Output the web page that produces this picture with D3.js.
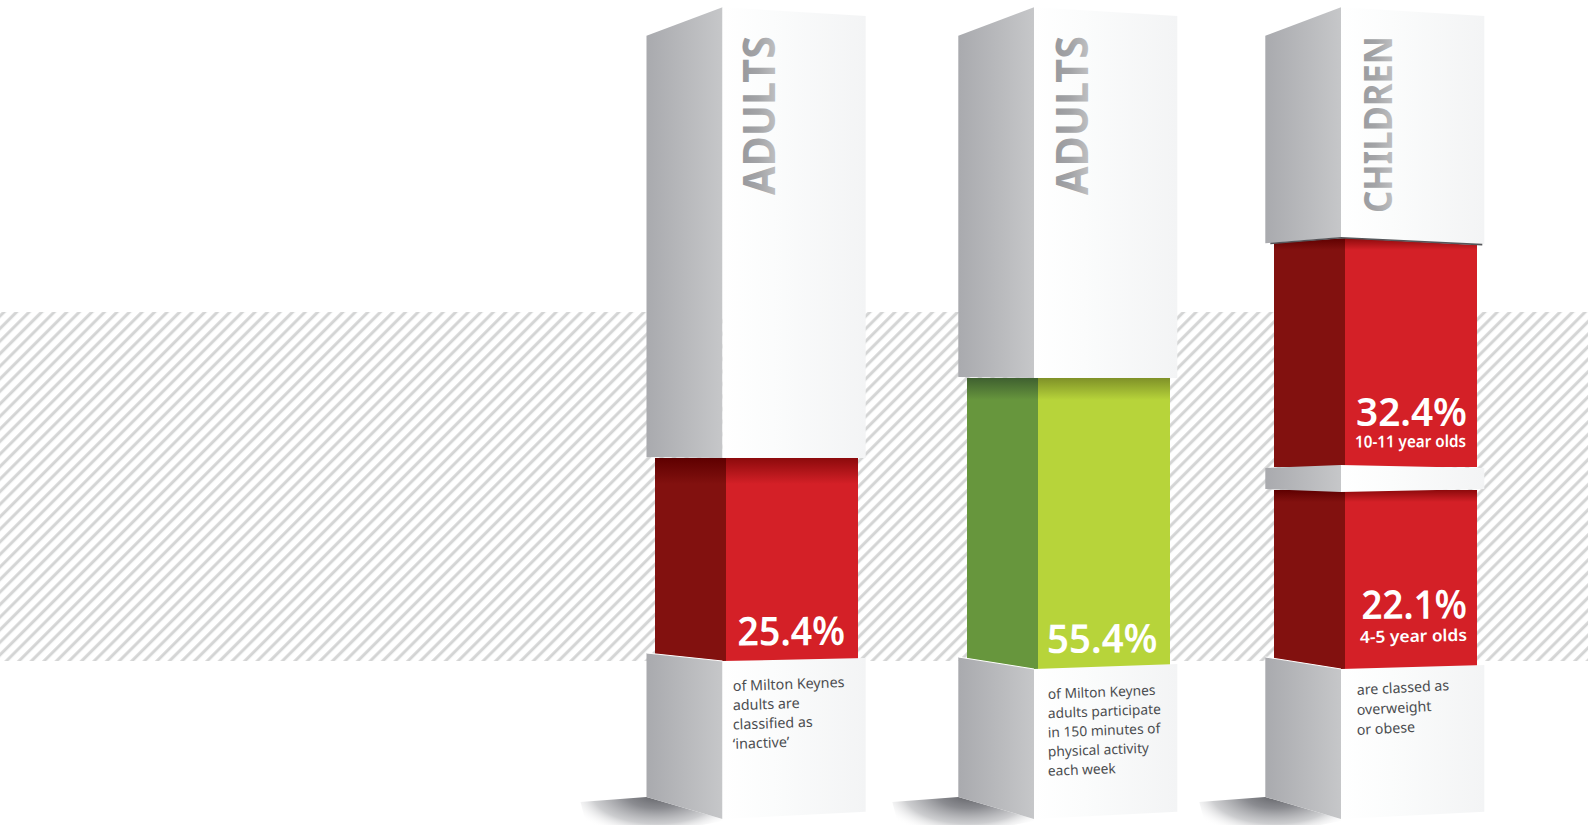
<!DOCTYPE html>
<html>
<head>
<meta charset="utf-8">
<script src="https://cdnjs.cloudflare.com/ajax/libs/d3/7.8.5/d3.min.js"></script>
<style>
  html, body { margin: 0; background: #fff; overflow: hidden; }
  svg { display: block; font-family: "Noto Sans", sans-serif; }
</style>
</head>
<body>
<svg id="chart" width="1588" height="825"></svg>
<script>
// Share of each group, in percent
const headings = ["ADULTS", "ADULTS", "CHILDREN"];
const values = [[25.4], [55.4], [32.4, 22.1]];
const valueLabels = [["25.4%"], ["55.4%"], ["32.4%", "22.1%"]];
const ageLabels = [[""], [""], ["10-11 year olds", "4-5 year olds"]];
const captions = [
  ["of Milton Keynes", "adults are", "classified as", "‘inactive’"],
  ["of Milton Keynes", "adults participate", "in 150 minutes of", "physical activity", "each week"],
  ["are classed as", "overweight", "or obese"]
];
const palettes = { red: ["#d42027", "#82110f", "#8c0a0c", "#5e0000"], green: ["#b7d43a", "#67963d", "#7f9128", "#3f6030"] };
const columnColours = ["red", "green", "red"];

// Column height in pixels for each percentage
const barHeight = d3.scaleLinear().domain([22.1, 25.4, 32.4, 55.4]).range([179, 203, 229, 291]);

// Column frames: block edges, inset bar edges and the slanted edge offsets
const frames = [
  { xl: 646.5, xm: 722.5, xr: 865.7, bl: 655, bm: 726, br: 858,
    bottoms: [661], topEdge: [[0, 0, 0]], baseEdge: [-8, 0, -3], shade: 26,
    headX: 775, headLen: 159, headSize: 45, captionX: 733, captionY: 691, captionStep: 19.3, captionRot: -2, captionSize: 14.3 },
  { xl: 958.3, xm: 1034, xr: 1177.3, bl: 967, bm: 1038, br: 1170,
    bottoms: [669], topEdge: [[0, 0, 0]], baseEdge: [-12, 0, -5], shade: 22,
    headX: 1087.5, headLen: 159, headSize: 45, captionX: 1048, captionY: 699, captionStep: 19.2, captionRot: -2.2, captionSize: 13.8 },
  { xl: 1265.3, xm: 1341, xr: 1484.3, bl: 1274, bm: 1345, br: 1477,
    bottoms: [467, 669], topEdge: [[5, 0, 7], [0, 0, 0]], baseEdge: [-12, 0, -4], shade: 12,
    headX: 1392, headLen: 177, headSize: 39, captionX: 1357, captionY: 695, captionStep: 20, captionRot: -3, captionSize: 14.2 }
];
// Text placement for the percentages: left edge, baseline, width, tilt
const valuePlacement = [
  [{ x: 737.5, y: 645.5, w: 107.5, rot: -0.4 }],
  [{ x: 1047, y: 653, w: 110.5, rot: -0.4 }],
  [{ x: 1356, y: 426, w: 111, rot: 0, ax: 1355, ay: 447.5, aw: 111 },
   { x: 1361.5, y: 619, w: 105.5, rot: -0.4, ax: 1360, ay: 643, aw: 107 }]
];

const svg = d3.select("#chart");
const defs = svg.append("defs");

function linear(id, x1, x2, y1, y2, stops) {
  const g = defs.append("linearGradient").attr("id", id).attr("gradientUnits", "userSpaceOnUse")
    .attr("x1", x1).attr("x2", x2).attr("y1", y1).attr("y2", y2);
  g.selectAll("stop").data(stops).join("stop")
    .attr("offset", d => d[0]).attr("stop-color", d => d[1]);
  return `url(#${id})`;
}

// Diagonal hatching behind the columns
defs.append("pattern").attr("id", "hatch").attr("patternUnits", "userSpaceOnUse")
  .attr("width", 8.873).attr("height", 8.873).attr("patternTransform", "rotate(45)")
  .append("rect").attr("x", 0.2).attr("width", 3).attr("height", 8.873).attr("fill", "#d3d4d4");
svg.append("rect").attr("x", 0).attr("y", 312).attr("width", 1588).attr("height", 349).attr("fill", "url(#hatch)");

const line = d3.line();
const poly = (g, pts, fill) => g.append("path").attr("d", line(pts) + "Z").attr("fill", fill);
const topY = 7.3;

frames.forEach((f, i) => {
  const g = svg.append("g");
  const sideFill = linear(`side${i}`, f.xl, f.xm, 0, 0, [[0, "#a9aaae"], [1, "#c6c7c9"]]);
  const frontFill = linear(`front${i}`, f.xm, f.xr, 0, 0, [[0, "#ffffff"], [0.35, "#fbfcfc"], [1, "#f3f4f5"]]);

  // Ground shadow at the foot of the column
  const sh = defs.append("radialGradient").attr("id", `shadow${i}`).attr("gradientUnits", "userSpaceOnUse")
    .attr("cx", 0).attr("cy", 0).attr("r", 1)
    .attr("gradientTransform", `translate(${f.xl + 10},793) scale(92,44)`);
  sh.selectAll("stop").data([[0, "#5c5d62", 1], [0.35, "#85868b", 0.95], [0.7, "#bcbdc0", 0.75], [1, "#ffffff", 0]]).join("stop")
    .attr("offset", d => d[0]).attr("stop-color", d => d[1]).attr("stop-opacity", d => d[2]);
  poly(g, [[f.xl - 66, 802], [f.xl, 797], [f.xm, 819], [f.xm, 821], [f.xm - 20, 825], [f.xl - 60, 825]], `url(#shadow${i})`);

  // One coloured segment per value, stacked from the top
  const pal = palettes[columnColours[i]];
  const tops = values[i].map((v, j) => f.bottoms[j] - barHeight(v));
  values[i].forEach((v, j) => {
    const top = tops[j], bot = f.bottoms[j], [el, em, er] = f.topEdge[j];
    const sideShade = linear(`s${i}${j}`, 0, 0, top, top + f.shade, [[0, pal[3]], [1, pal[1]]]);
    const frontShade = linear(`f${i}${j}`, 0, 0, top, top + f.shade, [[0, pal[2]], [1, pal[0]]]);
    poly(g, [[f.bl, top + el], [f.bm, top + em], [f.bm, bot], [f.bl, bot]], sideShade);
    poly(g, [[f.bm, top + em], [f.br, top + er], [f.br, bot], [f.bm, bot]], frontShade);
  });

  // Upper block, resting on the first segment
  const t0 = tops[0];
  const under = i === 2 ? [5.3, -0.7, 6] : [-1, 0, 0];
  poly(g, [[f.xl, topY + 28.4], [f.xm, topY], [f.xm, t0 + under[1]], [f.xl, t0 + under[0]]], sideFill);
  poly(g, [[f.xm, topY], [f.xr, topY + 8.7], [f.xr, t0 + under[2]], [f.xm, t0 + under[1]]], frontFill);
  if (i === 2) {
    g.append("path").attr("d", line([[f.xl + 5, t0 + 5.5], [f.xm, t0 - 0.2], [f.xr - 2, t0 + 6.6]]))
      .attr("fill", "none").attr("stroke", "#55565a").attr("stroke-width", 1.6);
    // Band separating the two age groups
    const bandTop = f.bottoms[0] + 1, bandBot = tops[1];
    poly(g, [[f.xl, bandTop], [f.xm, bandTop - 3], [f.xm, bandBot + 2], [f.xl, bandBot - 1]], sideFill);
    poly(g, [[f.xm, bandTop - 3], [f.xr, bandTop], [f.xr, bandBot - 1], [f.xm, bandBot + 2]], frontFill);
  }

  // Lower block under the last segment
  const base = f.bottoms[f.bottoms.length - 1], [bl, bm, br] = f.baseEdge;
  poly(g, [[f.xl, base + bl], [f.xm, base + bm], [f.xm, 819], [f.xl, 797]], sideFill);
  poly(g, [[f.xm, base + bm], [f.xr, base + br], [f.xr, 811.7], [f.xm, 819]], frontFill);
  g.append("path").attr("d", line([[f.xl, base + bl], [f.xm, base + bm]]))
    .attr("fill", "none").attr("stroke", "#ffffff").attr("stroke-width", 1);

  // Rotated heading on the upper block (the gradient runs in the text's own rotated space)
  const headFill = linear(`head${i}`, 0, 0, -33, 0, [[0, "#98999d"], [0.5, "#a3a4a7"], [1, "#bdbec0"]]);
  g.append("text").attr("transform", `translate(${f.headX},${36 + f.headLen}) rotate(-90)`)
    .attr("font-size", f.headSize).attr("font-weight", 700)
    .attr("textLength", f.headLen).attr("lengthAdjust", "spacingAndGlyphs")
    .attr("fill", headFill).text(headings[i]);

  // Percentages and age bands on the coloured faces
  valuePlacement[i].forEach((p, j) => {
    g.append("text").attr("transform", `translate(${p.x},${p.y}) rotate(${p.rot})`)
      .attr("font-size", 39.5).attr("font-weight", 600).attr("fill", "#fff")
      .attr("textLength", p.w).attr("lengthAdjust", "spacingAndGlyphs").text(valueLabels[i][j]);
    if (ageLabels[i][j]) {
      g.append("text").attr("transform", `translate(${p.ax},${p.ay}) rotate(${j ? -1.2 : -0.3})`)
        .attr("font-size", 16.5).attr("font-weight", 600).attr("fill", "#fff")
        .attr("textLength", p.aw).attr("lengthAdjust", "spacingAndGlyphs").text(ageLabels[i][j]);
    }
  });

  // Caption on the lower block
  g.append("g").attr("transform", `translate(${f.captionX},${f.captionY})`)
    .selectAll("text").data(captions[i]).join("text")
    .attr("transform", (d, k) => `translate(0,${k * f.captionStep}) rotate(${f.captionRot})`)
    .attr("font-size", f.captionSize).attr("fill", "#4b4d50").text(d => d);
});
</script>
</body>
</html>
